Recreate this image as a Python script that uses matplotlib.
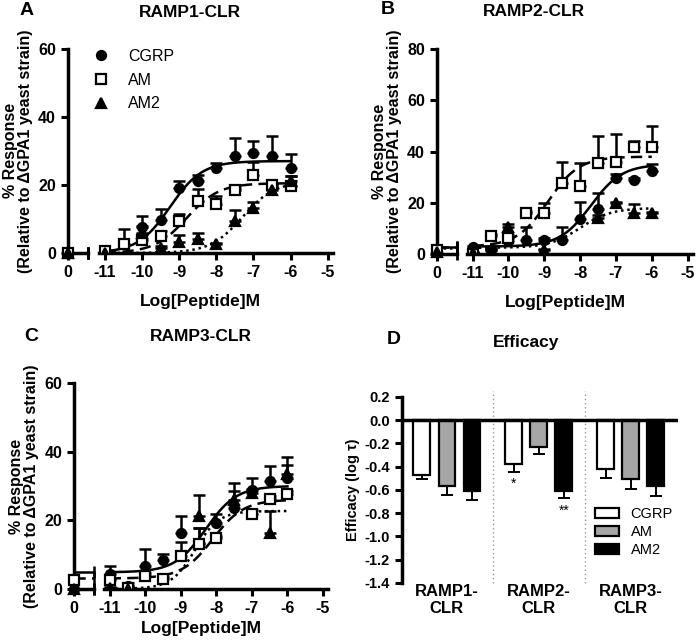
import matplotlib
matplotlib.use("Agg")
import matplotlib.pyplot as plt
import numpy as np
from matplotlib.patches import Patch
from matplotlib.lines import Line2D

plt.rcParams["font.family"] = ["Liberation Sans", "DejaVu Sans"]
plt.rcParams["font.weight"] = "bold"
plt.rcParams["axes.unicode_minus"] = False

LOGC = [-11, -10.5, -10, -9.5, -9, -8.5, -8, -7.5, -7, -6.5, -6]
SERIES = ["CGRP", "AM", "AM2"]
MARKERS = ["o", "s", "^"]
FACES = ["black", "white", "black"]
STYLES = ["-", (0, (4.5, 2.5)), (0, (1, 1.5))]

# panel A (RAMP1-CLR)
A_basal = [0, 0, 0]
A_cgrp = [0.0, np.nan, 7.5, 9.6, 19.1, 21.0, 25.0, 28.6, 29.4, 28.6, 25.0]
A_cgrp_err = [0.5, np.nan, 3.3, 3.4, 1.9, 2.0, 1.5, 5.2, 3.4, 5.9, 4.2]
A_am = [0.5, 2.5, 3.7, 4.9, 9.3, 15.2, 14.5, 18.4, 23.0, 20.1, 19.8]
A_am_err = [0.3, 4.4, 2.0, 1.5, 2.0, 3.6, 2.2, 0.6, 3.7, 0.6, 2.7]
A_am2 = [0.0, np.nan, 6.0, 1.5, 3.2, 4.1, 2.7, 9.3, 13.2, 18.6, 21.0]
A_am2_err = [0.3, np.nan, 2.0, 0.5, 2.2, 1.9, 0.3, 3.2, 1.7, 1.0, 1.5]
A_fit = [(0.0, 27.0, -9.25, 1.0), (0.0, 20.5, -8.8, 1.0), (0.0, 21.0, -7.3, 1.0)]

# panel B (RAMP2-CLR)
B_basal = [1.0, 1.5, 1.0]
B_cgrp = [2.9, 1.8, 5.2, 5.7, 5.7, 5.7, 13.9, 17.8, 29.6, 28.9, 32.4]
B_cgrp_err = [0.5, 0.5, 1.5, 5.0, 0.5, 5.0, 6.6, 5.9, 1.5, 0.6, 2.8]
B_am = [0.0, 7.2, 6.5, 16.2, 16.2, 27.6, 26.7, 35.4, 36.1, 41.7, 41.7]
B_am_err = [0.5, 0.6, 1.0, 0.6, 3.6, 8.5, 9.0, 10.5, 10.7, 2.2, 8.3]
B_am2 = [0.5, 1.6, 10.7, np.nan, 1.6, np.nan, np.nan, 14.3, 19.8, 16.2, 15.9]
B_am2_err = [0.3, 0.5, 1.0, np.nan, 0.3, np.nan, np.nan, 1.0, 0.6, 3.3, 0.5]
B_fit = [(3.0, 35.0, -7.7, 1.0), (3.0, 38.0, -8.9, 1.0), (2.5, 18.0, -8.0, 1.0)]

# panel C (RAMP3-CLR)
C_basal = [0.0, 2.5, 0.0]
C_cgrp = [4.2, 0.8, 6.6, 8.5, 16.3, 13.4, 19.2, 23.6, 28.9, 31.4, 32.3]
C_cgrp_err = [2.4, 1.0, 4.9, 1.5, 4.9, 4.4, 2.5, 4.8, 3.4, 4.3, 3.9]
C_am = [2.5, 0.3, 3.7, 2.9, 9.7, 13.2, 14.9, np.nan, 21.9, 26.3, 27.8]
C_am_err = [0.5, 0.5, 0.8, 0.5, 3.9, 4.6, 0.6, np.nan, 1.0, 0.8, 0.6]
C_am2 = [0.3, 0.0, np.nan, np.nan, np.nan, 21.2, np.nan, 26.0, 28.0, 16.3, 33.6]
C_am2_err = [0.3, 0.5, np.nan, np.nan, np.nan, 6.3, np.nan, 5.0, 1.0, 6.3, 5.0]
C_fit = [(4.8, 30.0, -8.3, 1.0), (3.0, 26.0, -8.1, 1.0), (0.0, 22.7, -8.6, 1.3)]

# panel D (efficacy)
GROUPS = ["RAMP1-\nCLR", "RAMP2-\nCLR", "RAMP3-\nCLR"]
D_cgrp = [-0.47, -0.38, -0.42]
D_cgrp_err = [0.04, 0.07, 0.08]
D_am = [-0.57, -0.23, -0.51]
D_am_err = [0.07, 0.06, 0.08]
D_am2 = [-0.61, -0.61, -0.57]
D_am2_err = [0.08, 0.06, 0.08]
D_ticks = [0.2, 0.0, -0.2, -0.4, -0.6, -0.8, -1.0, -1.2, -1.4]
BAR_COLORS = ["white", "#a6a6a6", "black"]

BASAL_X = -12
BREAK_X = -11.45


def logistic(x, bottom, top, ec50, hill):
    return bottom + (top - bottom) / (1 + 10 ** ((ec50 - x) * hill))


def curve_panel(ax, data, basal, fits, ymax, title, letter, title_pos, letter_pos,
                xlabelpad=10, legend=False):
    x = np.array(LOGC)
    for i, (y, e) in enumerate(data):
        y = np.array(y); e = np.array(e)
        ok = ~np.isnan(y)
        ax.errorbar(x[ok], y[ok], yerr=[np.zeros(ok.sum()), e[ok]], fmt="none",
                    ecolor="black", elinewidth=1.8, capsize=4, capthick=1.8, zorder=3)
        ax.plot(x[ok], y[ok], linestyle="none", marker=MARKERS[i], ms=6.5,
                mfc=FACES[i], mec="black", mew=1.6, zorder=4, label=SERIES[i])
        ax.plot([BASAL_X], [basal[i]], linestyle="none", marker=MARKERS[i], ms=6.5,
                mfc=FACES[i], mec="black", mew=1.6, zorder=4, clip_on=False)
        b, t, ec, h = fits[i]
        xs = np.linspace(-11, -6, 200)
        ax.plot(xs, logistic(xs, b, t, ec, h), color="black", lw=1.8,
                linestyle=STYLES[i], zorder=2)
        ax.plot([BASAL_X, BREAK_X], [b, b], color="black", lw=1.8,
                linestyle=STYLES[i], zorder=2, clip_on=False)
        ax.plot([BREAK_X], [b], marker="|", ms=8, mew=1.8, color="black", clip_on=False)
    # broken x axis: short left segment for basal
    ax.plot([BASAL_X, BREAK_X], [0, 0], color="black", lw=2.5, clip_on=False)
    ax.plot([BREAK_X], [0], marker="|", ms=9, mew=2, color="black", clip_on=False)
    ax.set_xlim(BASAL_X, -4.85)
    ax.set_ylim(0, ymax)
    ax.spines["top"].set_visible(False)
    ax.spines["right"].set_visible(False)
    ax.spines["left"].set_linewidth(2.5)
    ax.spines["bottom"].set_linewidth(2.5)
    ax.spines["bottom"].set_bounds(-11.15, -4.85)
    ax.set_xticks([BASAL_X, -11, -10, -9, -8, -7, -6, -5])
    ax.set_xticklabels(["0", "-11", "-10", "-9", "-8", "-7", "-6", "-5"])
    ax.set_yticks(np.arange(0, ymax + 1, 20))
    ax.tick_params(width=2.2, length=5, labelsize=11.5)
    for lab in ax.get_xticklabels() + ax.get_yticklabels():
        lab.set_fontweight("bold")
    ax.set_xlabel("Log[Peptide]M", fontsize=12.5, fontweight="bold", labelpad=xlabelpad)
    ax.set_ylabel("% Response\n(Relative to \u0394GPA1 yeast strain)", fontsize=11.5,
                  fontweight="bold", labelpad=4, linespacing=1.0)
    ax.text(title_pos[0], title_pos[1], title, transform=ax.transAxes, fontsize=12.5,
            fontweight="bold", ha="center", va="center")
    ax.text(letter_pos[0], letter_pos[1], letter, transform=ax.transAxes, fontsize=14,
            fontweight="bold", ha="center", va="center")
    if legend:
        handles = [Line2D([], [], linestyle="none", marker=MARKERS[i], ms=6.5,
                          mfc=FACES[i], mec="black", mew=1.6) for i in range(3)]
        leg = ax.legend(handles, SERIES, loc="upper left", bbox_to_anchor=(0.04, 1.07),
                        frameon=False, fontsize=11.5, handletextpad=1.2,
                        labelspacing=0.55, handlelength=1.0)
        for t in leg.get_texts():
            t.set_fontweight("normal")


fig = plt.figure(figsize=(7.0, 6.42), dpi=100)
axA = fig.add_axes([0.097, 0.606, 0.379, 0.318])
axB = fig.add_axes([0.624, 0.604, 0.366, 0.320])
axC = fig.add_axes([0.106, 0.083, 0.363, 0.320])
axD = fig.add_axes([0.574, 0.092, 0.394, 0.290])

curve_panel(axA, [(A_cgrp, A_cgrp_err), (A_am, A_am_err), (A_am2, A_am2_err)],
            A_basal, A_fit, 60, "RAMP1-CLR", "A", (0.46, 1.18), (-0.155, 1.19),
            legend=True)
curve_panel(axB, [(B_cgrp, B_cgrp_err), (B_am, B_am_err), (B_am2, B_am2_err)],
            B_basal, B_fit, 80, "RAMP2-CLR", "B", (0.38, 1.18), (-0.19, 1.19))
curve_panel(axC, [(C_cgrp, C_cgrp_err), (C_am, C_am_err), (C_am2, C_am2_err)],
            C_basal, C_fit, 60, "RAMP3-CLR", "C", (0.50, 1.23), (-0.17, 1.23),
            xlabelpad=4)

# panel D
gap = 3.667
centers = np.arange(3) * gap
vals = [D_cgrp, D_am, D_am2]
errs = [D_cgrp_err, D_am_err, D_am2_err]
for i in range(3):
    xs = centers + (i - 1)
    axD.bar(xs, vals[i], width=0.67, color=BAR_COLORS[i], edgecolor="black",
            linewidth=1.6, zorder=2)
    axD.errorbar(xs, vals[i], yerr=[errs[i], np.zeros(3)], fmt="none", ecolor="black",
                 elinewidth=1.4, capsize=4, capthick=1.4, zorder=1)
axD.axhline(0, color="black", lw=2.5, zorder=3)
for sx in (centers[:2] + gap / 2):
    axD.axvline(sx, ymin=0, ymax=1.03, color="#999999", lw=1, linestyle=(0, (1, 2)),
                clip_on=False)
axD.text(centers[1] - 1, -0.58, "*", ha="center", fontsize=10, fontweight="normal")
axD.text(centers[1] + 1, -0.81, "**", ha="center", fontsize=10, fontweight="normal")
axD.set_xlim(-1.8, centers[-1] + 1.87)
axD.set_ylim(-1.4, 0.2)
axD.set_yticks(D_ticks)
axD.set_yticklabels([f"{v:.1f}".replace("-0.0", "0.0") for v in D_ticks])
axD.set_xticks(centers)
axD.set_xticklabels(GROUPS, fontsize=12, fontweight="bold", linespacing=1.1)
axD.tick_params(axis="x", length=0, pad=1)
axD.tick_params(axis="y", width=2.2, length=5, labelsize=10.5)
for lab in axD.get_yticklabels():
    lab.set_fontweight("bold")
for s in ("top", "right", "bottom"):
    axD.spines[s].set_visible(False)
axD.spines["left"].set_linewidth(2.5)
axD.set_ylabel("Efficacy (log \u03c4)", fontsize=10.5, fontweight="bold", labelpad=3)
axD.text(0.45, 1.29, "Efficacy", transform=axD.transAxes, fontsize=12.5,
         fontweight="bold", ha="center", va="center")
axD.text(-0.03, 1.31, "D", transform=axD.transAxes, fontsize=14, fontweight="bold",
         ha="center", va="center")
handles = [Patch(facecolor=c, edgecolor="black", linewidth=1.6) for c in BAR_COLORS]
leg = axD.legend(handles, SERIES, loc="lower right", bbox_to_anchor=(1.03, 0.07),
                 frameon=False, fontsize=10.5, handlelength=1.6, handleheight=0.7,
                 labelspacing=0.25)
for t in leg.get_texts():
    t.set_fontweight("normal")

fig.savefig("out.png", dpi=100)
